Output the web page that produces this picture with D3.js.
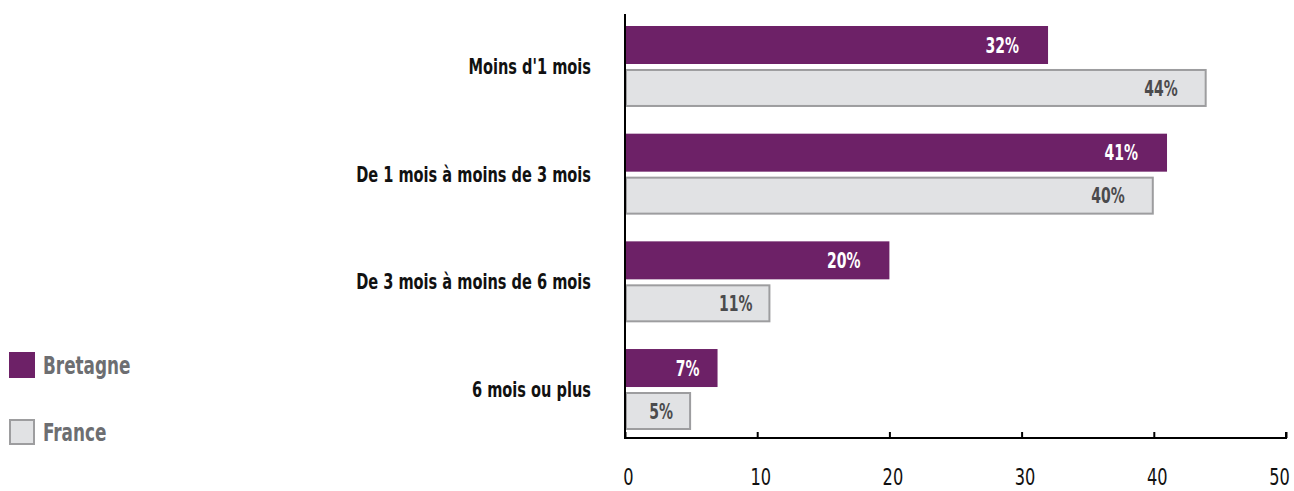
<!DOCTYPE html>
<html><head><meta charset="utf-8">
<script src="https://cdn.jsdelivr.net/npm/d3@7"></script>
<style>
body{margin:0;background:#fff;}
text{font-family:"DejaVu Sans Condensed","Liberation Sans Narrow",sans-serif;}
</style></head>
<body><svg id="c" width="1294" height="491"></svg>
<script>
const categories = ["Moins d'1 mois","De 1 mois à moins de 3 mois","De 3 mois à moins de 6 mois","6 mois ou plus"];
const seriesNames = ["Bretagne","France"];
const bretagne = [32,41,20,7];
const france = [44,40,11,5];
const xTicks = [0,10,20,30,40,50];

const colors = {Bretagne:"#6d2167", France:"#e1e2e4"};
const svg = d3.select("#c");
const x = d3.scaleLinear().domain([0,50]).range([625,1286]);
const y = d3.scaleBand().domain(categories).range([26,430]).paddingInner(0.248).paddingOuter(0);
const ys = d3.scaleBand().domain(seriesNames).range([0,y.bandwidth()]).paddingInner(0.116);
const values = {Bretagne:bretagne, France:france};

// condense text to mimic a condensed face
function condense(sel, f){
  sel.each(function(){
    const w = this.getComputedTextLength();
    d3.select(this).attr("textLength", w*f).attr("lengthAdjust","spacingAndGlyphs");
  });
}

const g = svg.selectAll("g.cat").data(categories).join("g").attr("class","cat")
  .attr("transform", d=>`translate(0,${y(d)})`);

seriesNames.forEach(s=>{
  g.append("rect")
    .attr("x", s==="France"? x(0)+1 : x(0))
    .attr("y", (d)=> ys(s) + (s==="France"?1:0))
    .attr("width", (d,i)=> x(values[s][i]) - x(0) - (s==="France"?2:0))
    .attr("height", ys.bandwidth() - (s==="France"?2:0))
    .attr("fill", colors[s])
    .attr("stroke", s==="France" ? "#9d9d9f" : "none")
    .attr("stroke-width", 2);
  g.append("text")
    .attr("x", (d,i)=> { const v = values[s][i]; return x(v) - (v < 15 ? 18 : 29); })
    .attr("y", ys(s) + ys.bandwidth()/2)
    .attr("dy","0.36em")
    .attr("text-anchor","end")
    .attr("font-size", 21).attr("font-weight","bold")
    .attr("fill", s==="France" ? "#4b4b4d" : "#ffffff")
    .text((d,i)=> values[s][i] + "%")
    .call(condense, 0.74);
});

g.append("text")
  .attr("x", 591).attr("y", y.bandwidth()/2).attr("dy","0.36em")
  .attr("text-anchor","end").attr("font-size",20.5).attr("font-weight","bold").attr("fill","#111")
  .text(d=>d)
  .call(condense, 0.79);

// axes
const xAxis = d3.axisBottom(x).tickValues(xTicks).tickSize(-6).tickPadding(31).tickFormat(d3.format("d"));
const ax = svg.append("g").attr("transform","translate(0,438)").call(xAxis);
ax.select(".domain").attr("stroke","#000").attr("stroke-width",2).attr("d", `M${x(0)},-6V0H${x(50)}V-6`);
ax.selectAll(".tick line").attr("stroke","#000").attr("stroke-width",2);
ax.selectAll(".tick text").attr("font-size",22.5).attr("fill","#111").attr("font-family",null)
  .attr("dx", d=> d===50 ? -7 : 3)
  .call(condense, 0.8);
svg.append("line").attr("x1",x(0)).attr("x2",x(0)).attr("y1",14).attr("y2",438)
  .attr("stroke","#000").attr("stroke-width",2);

// legend
const lg = svg.selectAll("g.leg").data(seriesNames).join("g").attr("class","leg")
  .attr("transform",(d,i)=>`translate(9,${352 + i*67})`);
lg.append("rect").attr("x",d=>d==="France"?1:0).attr("y",d=>d==="France"?1:0)
  .attr("width",d=>d==="France"?24:26).attr("height",d=>d==="France"?24:26)
  .attr("fill",d=>colors[d]).attr("stroke",d=>d==="France"?"#9d9d9f":"none").attr("stroke-width",2);
lg.append("text").attr("x",34).attr("y",13).attr("dy","0.36em")
  .attr("font-size",24).attr("font-weight","bold").attr("fill","#6d6e71").text(d=>d)
  .call(condense, 0.78);
</script></body></html>
